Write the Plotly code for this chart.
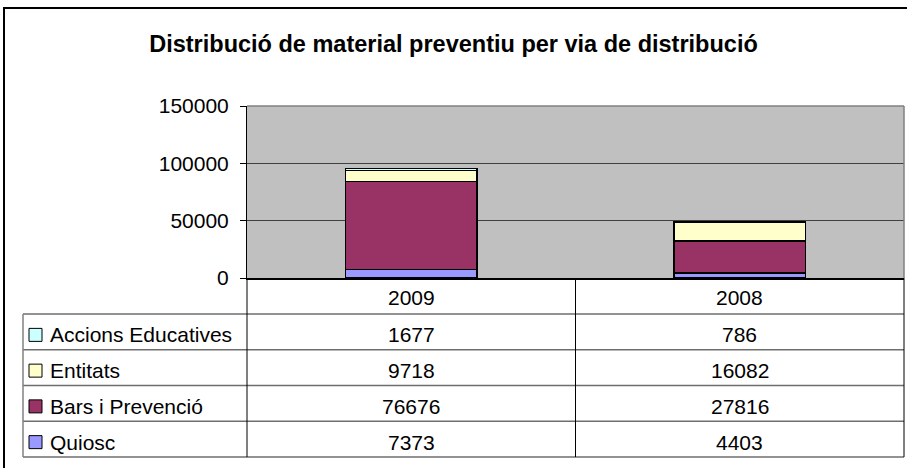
import plotly.graph_objects as go

# data
years = ['2009', '2008']
series_names = ['Quiosc', 'Bars i Prevenció', 'Entitats', 'Accions Educatives']
quiosc = [7373, 4403]
bars_prevencio = [76676, 27816]
entitats = [9718, 16082]
accions_educatives = [1677, 786]
series_colors = ['#9999FF', '#993366', '#FFFFCC', '#CCFFFF']
y_ticks = [0, 50000, 100000, 150000]

series_values = [quiosc, bars_prevencio, entitats, accions_educatives]

# page / plot-area geometry in pixels
W, H = 907, 468
L, R, T, B = 247, 904, 106, 278
FONT = 'Liberation Sans, Arial, sans-serif'
FS = 21


def px(x):
    return (x - L) / (R - L)


def py(y):
    return (B - y) / (B - T)


fig = go.Figure()

for name, vals, col in zip(series_names, series_values, series_colors):
    fig.add_trace(go.Bar(
        x=years, y=vals, name=name,
        marker=dict(color=col, line=dict(color='black', width=1.5)),
        showlegend=False
    ))

shapes = []
annotations = []

# outer chart border
shapes.append(dict(type='rect', xref='paper', yref='paper',
                   x0=px(4), x1=px(915), y0=py(8), y1=py(480),
                   line=dict(color='black', width=2), layer='above'))
# plot area top / right border
shapes.append(dict(type='line', xref='paper', yref='paper',
                   x0=0, x1=1, y0=1, y1=1, line=dict(color='#808080', width=1.5)))
shapes.append(dict(type='line', xref='paper', yref='paper',
                   x0=1, x1=1, y0=0, y1=1, line=dict(color='#808080', width=1.5)))

# data table below the axis
row_top = 314
row_h = 35.75
table_left = 23
rows = list(zip(series_names, series_values, series_colors))[::-1]
n = len(rows)
for i in range(n + 1):
    yy = row_top + i * row_h
    shapes.append(dict(type='line', xref='paper', yref='paper',
                       x0=px(table_left), x1=px(R), y0=py(yy), y1=py(yy),
                       line=dict(color='#6e6e6e', width=1.5)))
bottom = row_top + n * row_h
# vertical dividers
shapes.append(dict(type='line', xref='paper', yref='paper',
                   x0=px(table_left), x1=px(table_left), y0=py(row_top), y1=py(bottom),
                   line=dict(color='#808080', width=1.5)))
for xx in [L, (L + R) / 2, R]:
    shapes.append(dict(type='line', xref='paper', yref='paper',
                       x0=px(xx), x1=px(xx), y0=py(B), y1=py(bottom),
                       line=dict(color='black', width=1)))

# header row with years (category index on the x axis)
for j, yr in enumerate(years):
    annotations.append(dict(x=j, xref='x', y=py((B + row_top) / 2 + 1), yref='paper',
                            text=yr, showarrow=False, yanchor='middle',
                            font=dict(size=FS, color='black', family=FONT)))

for i, (name, vals, col) in enumerate(rows):
    yc = row_top + i * row_h + row_h / 2 + 3
    # legend key
    shapes.append(dict(type='rect', xref='paper', yref='paper',
                       x0=px(29), x1=px(42), y0=py(yc - 6.5), y1=py(yc + 6.5),
                       fillcolor=col, line=dict(color='black', width=1)))
    annotations.append(dict(x=px(48), xref='paper', y=py(yc), yref='paper',
                            text=name, showarrow=False, xanchor='left', yanchor='middle',
                            font=dict(size=FS, color='black', family=FONT)))
    for j, v in enumerate(vals):
        annotations.append(dict(x=j, xref='x', y=py(yc), yref='paper',
                                text=str(v), showarrow=False, yanchor='middle',
                                font=dict(size=FS, color='black', family=FONT)))

fig.update_layout(
    width=W, height=H,
    margin=dict(l=L, r=W - R, t=T, b=H - B),
    paper_bgcolor='white',
    plot_bgcolor='#C0C0C0',
    barmode='stack',
    bargap=0.6,
    title=dict(text='<b>Distribució de material preventiu per via de distribució</b>',
               x=0.5, xanchor='center', y=1 - 44 / H, yanchor='middle',
               font=dict(size=23.5, color='black', family=FONT)),
    shapes=shapes,
    annotations=annotations,
    font=dict(family=FONT, color='black'),
)

fig.update_xaxes(type='category', showticklabels=False, showgrid=False, showline=True,
                 linecolor='black', linewidth=2, ticks='', range=[-0.5, 1.5])
fig.update_yaxes(range=[0, 150000], tickvals=y_ticks, tickformat='d', showgrid=True,
                 gridcolor='#404040', gridwidth=1, zeroline=False,
                 showline=True, linecolor='black', linewidth=1,
                 ticks='outside', ticklen=6, tickcolor='black',
                 ticklabelstandoff=7,
                 tickfont=dict(size=FS, color='black', family=FONT))

# drop the default page margin so the figure sits at the window origin
fig.write_html('out.html', config={'displayModeBar': False},
               post_script="document.body.style.margin='0';")
